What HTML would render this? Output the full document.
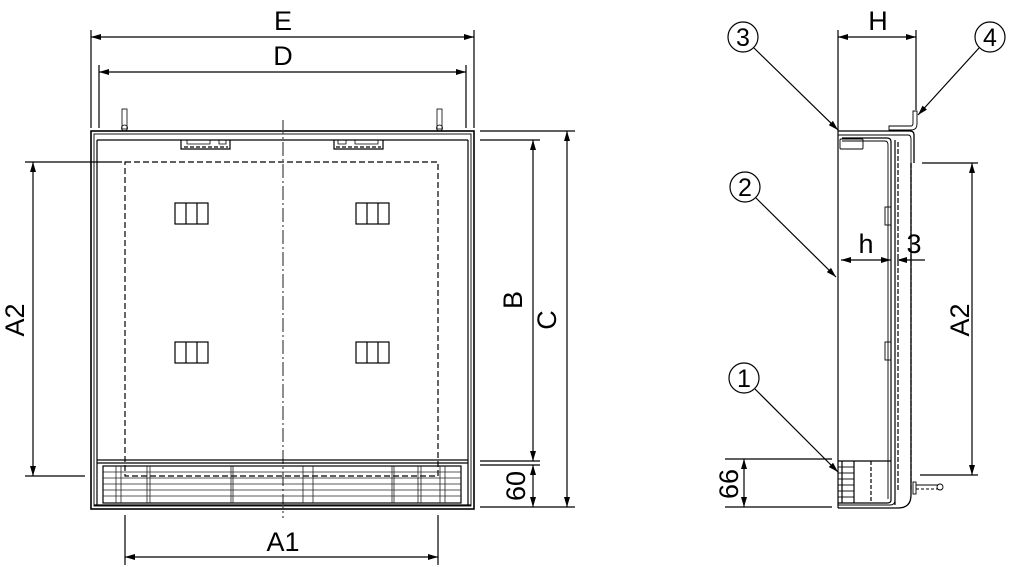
<!DOCTYPE html>
<html><head><meta charset="utf-8"><style>
html,body{margin:0;padding:0;background:#fff;}
svg{display:block;}
text{font-family:"Liberation Sans","DejaVu Sans",sans-serif;fill:#000;}
</style></head><body>
<svg width="1016" height="567" viewBox="0 0 1016 567" xmlns="http://www.w3.org/2000/svg">
<defs>
<marker id="a" viewBox="0 0 10 6" refX="10" refY="3" markerWidth="11" markerHeight="6" orient="auto-start-reverse" markerUnits="userSpaceOnUse"><path d="M0,0 L10,3 L0,6z" fill="#000"/></marker>
</defs>
<g stroke="#000" fill="none" stroke-width="1.2">
<line x1="91" y1="30" x2="91" y2="128"/>
<line x1="474" y1="30" x2="474" y2="128"/>
<line x1="99" y1="65" x2="99" y2="128"/>
<line x1="466" y1="65" x2="466" y2="128"/>
<line x1="91" y1="37" x2="474" y2="37" marker-start="url(#a)" marker-end="url(#a)"/>
<line x1="99" y1="72" x2="466" y2="72" marker-start="url(#a)" marker-end="url(#a)"/>
<rect x="91" y="131" width="383" height="378" stroke-width="1.6"/>
<rect x="94" y="134" width="377" height="372" stroke-width="0.9"/>
<line x1="97" y1="140" x2="468" y2="140"/>
<line x1="97" y1="140" x2="97" y2="505"/>
<line x1="468" y1="140" x2="468" y2="505"/>
<line x1="94" y1="505" x2="471" y2="505"/>
<rect x="122" y="109" width="5" height="20" stroke-width="0.8"/>
<circle cx="124.5" cy="128" r="3" stroke-width="0.8"/>
<rect x="437" y="109" width="5" height="20" stroke-width="0.8"/>
<circle cx="439.5" cy="128" r="3" stroke-width="0.8"/>
<path d="M181,140 V149 H230 V140"/>
<path d="M187,140 V144 H210 V140 M219,140 V144 H226 V140" stroke-width="0.8"/>
<line x1="184" y1="147" x2="228" y2="147" stroke-dasharray="4,2"/>
<path d="M334,140 V149 H383 V140"/>
<path d="M338,140 V144 H346 V140 M355,140 V144 H378 V140" stroke-width="0.8"/>
<line x1="336" y1="147" x2="381" y2="147" stroke-dasharray="4,2"/>
<rect x="125" y="162" width="313" height="314" stroke-dasharray="6,3"/>
<line x1="283" y1="120" x2="283" y2="518" stroke="#444" stroke-dasharray="14,3,2,3"/>
<g stroke-width="1.2">
<rect x="175" y="203" width="33" height="21"/><line x1="186" y1="203" x2="186" y2="224"/><line x1="197" y1="203" x2="197" y2="224"/>
<rect x="356" y="203" width="33" height="21"/><line x1="367" y1="203" x2="367" y2="224"/><line x1="378" y1="203" x2="378" y2="224"/>
<rect x="175" y="342" width="33" height="21"/><line x1="186" y1="342" x2="186" y2="363"/><line x1="197" y1="342" x2="197" y2="363"/>
<rect x="356" y="342" width="33" height="21"/><line x1="367" y1="342" x2="367" y2="363"/><line x1="378" y1="342" x2="378" y2="363"/>
</g>
<line x1="97" y1="460" x2="468" y2="460"/>
<line x1="97" y1="463" x2="468" y2="463"/>
<rect x="103" y="466" width="358" height="37"/>
<g stroke-width="0.8" stroke="#222">
<line x1="103" y1="472" x2="461" y2="472"/><line x1="103" y1="478" x2="461" y2="478"/>
<line x1="103" y1="484" x2="461" y2="484"/><line x1="103" y1="490" x2="461" y2="490"/>
<line x1="103" y1="496" x2="461" y2="496"/>
<line x1="116" y1="466" x2="116" y2="503"/><line x1="121" y1="466" x2="121" y2="503"/>
<line x1="147" y1="466" x2="147" y2="503"/><line x1="150" y1="466" x2="150" y2="503"/>
<line x1="231" y1="466" x2="231" y2="503"/><line x1="233" y1="466" x2="233" y2="503"/>
<line x1="303" y1="466" x2="303" y2="503"/><line x1="313" y1="466" x2="313" y2="503"/>
<line x1="392" y1="466" x2="392" y2="503"/><line x1="394" y1="466" x2="394" y2="503"/>
<line x1="418" y1="466" x2="418" y2="503"/><line x1="421" y1="466" x2="421" y2="503"/>
<line x1="440" y1="466" x2="440" y2="503"/><line x1="445" y1="466" x2="445" y2="503"/>
</g>
<line x1="25" y1="162" x2="122" y2="162"/>
<line x1="25" y1="476" x2="85" y2="476"/>
<line x1="33" y1="162" x2="33" y2="476" marker-start="url(#a)" marker-end="url(#a)"/>
<line x1="480" y1="131" x2="575" y2="131"/>
<line x1="480" y1="140" x2="540" y2="140"/>
<line x1="480" y1="461" x2="540" y2="461"/>
<line x1="480" y1="465" x2="540" y2="465"/>
<line x1="480" y1="507" x2="575" y2="507"/>
<line x1="533" y1="140" x2="533" y2="461" marker-start="url(#a)" marker-end="url(#a)"/>
<line x1="533" y1="465" x2="533" y2="507" marker-start="url(#a)" marker-end="url(#a)"/>
<line x1="567" y1="131" x2="567" y2="507" marker-start="url(#a)" marker-end="url(#a)"/>
<line x1="125" y1="515" x2="125" y2="565"/>
<line x1="438" y1="515" x2="438" y2="565"/>
<line x1="125" y1="557" x2="438" y2="557" marker-start="url(#a)" marker-end="url(#a)"/>

<line x1="838" y1="30" x2="838" y2="508"/>
<line x1="916" y1="30" x2="916" y2="110"/>
<line x1="838" y1="37" x2="916" y2="37" marker-start="url(#a)" marker-end="url(#a)"/>
<path d="M838,131 H910 Q914,131 914,135 V163" stroke-width="1.3"/>
<path d="M838,135 H908 Q911,135 911,139 V163" stroke-width="0.9"/>
<path d="M889,126 H911 Q913,126 913,123 V111 H917 V124 Q917,130 911,130 H889 Z" stroke-width="0.9"/>
<path d="M842,138 H887 Q891,138 891,142 V500 Q891,503 887,503 H838"/>
<path d="M842,141 H885 Q888,141 888,145 V499" stroke-width="0.9"/>
<rect x="840" y="139" width="23" height="10" rx="1" stroke-width="0.9"/>
<line x1="895" y1="140" x2="895" y2="505"/>
<line x1="898" y1="142" x2="898" y2="490" stroke-dasharray="5,2"/>
<line x1="911" y1="163" x2="911" y2="490" stroke-dasharray="5,2"/>
<path d="M911,163 V495 Q911,508 898,508 H838" stroke-width="1.3"/>
<path d="M895,500 Q895,505 890,505 H838" stroke-width="0.9"/>
<rect x="885" y="207" width="6" height="18" stroke-width="0.9"/>
<rect x="885" y="342" width="6" height="18" stroke-width="0.9"/>
<line x1="838" y1="461" x2="891" y2="461"/>
<line x1="842" y1="461" x2="842" y2="503"/>
<line x1="854" y1="461" x2="854" y2="503"/>
<line x1="871" y1="461" x2="871" y2="503" stroke-dasharray="4,2"/>
<g stroke-width="0.9"><line x1="838" y1="467" x2="854" y2="467"/><line x1="838" y1="473" x2="854" y2="473"/><line x1="838" y1="479" x2="854" y2="479"/><line x1="838" y1="485" x2="854" y2="485"/><line x1="838" y1="491" x2="854" y2="491"/><line x1="838" y1="497" x2="854" y2="497"/></g>
<rect x="913" y="482" width="3" height="12" stroke-width="0.9"/>
<line x1="916" y1="485" x2="938" y2="485" stroke-width="0.9"/>
<line x1="916" y1="489" x2="938" y2="489" stroke-width="0.9" stroke-dasharray="3,2"/>
<circle cx="940" cy="487" r="3" stroke-width="0.9"/>
<line x1="841" y1="260" x2="891" y2="260" marker-start="url(#a)" marker-end="url(#a)"/>
<line x1="897" y1="260" x2="925" y2="260" marker-start="url(#a)"/>
<line x1="922" y1="163" x2="978" y2="163"/>
<line x1="920" y1="475" x2="978" y2="475"/>
<line x1="972" y1="163" x2="972" y2="475" marker-start="url(#a)" marker-end="url(#a)"/>
<line x1="725" y1="459" x2="832" y2="459"/>
<line x1="725" y1="507" x2="832" y2="507"/>
<line x1="744" y1="459" x2="744" y2="507" marker-start="url(#a)" marker-end="url(#a)"/>
<circle cx="743" cy="37" r="15"/>
<circle cx="990" cy="37" r="15"/>
<circle cx="745" cy="187" r="15"/>
<circle cx="744" cy="378" r="15"/>
<line x1="754" y1="48" x2="838" y2="130" marker-end="url(#a)"/>
<line x1="979" y1="48" x2="918" y2="115" marker-end="url(#a)"/>
<line x1="756" y1="198" x2="836" y2="277" marker-end="url(#a)"/>
<line x1="755" y1="389" x2="838" y2="472" marker-end="url(#a)"/>
</g>
<g font-size="27" text-anchor="middle">
<text x="283" y="30">E</text>
<text x="283" y="65">D</text>
<text x="283" y="551">A1</text>
<text x="878" y="30">H</text>
<text x="866" y="253">h</text>
<text x="914" y="253">3</text>
<text transform="translate(24,320) rotate(-90)">A2</text>
<text transform="translate(522,300) rotate(-90)">B</text>
<text transform="translate(556,320) rotate(-90)">C</text>
<text transform="translate(525,486) rotate(-90)">60</text>
<text transform="translate(969,320) rotate(-90)">A2</text>
<text transform="translate(738,484) rotate(-90)">66</text>
<text x="743" y="46" font-size="25">3</text>
<text x="990" y="46" font-size="25">4</text>
<text x="745" y="196" font-size="25">2</text>
<text x="744" y="387" font-size="25">1</text>
</g>
</svg>
</body></html>
